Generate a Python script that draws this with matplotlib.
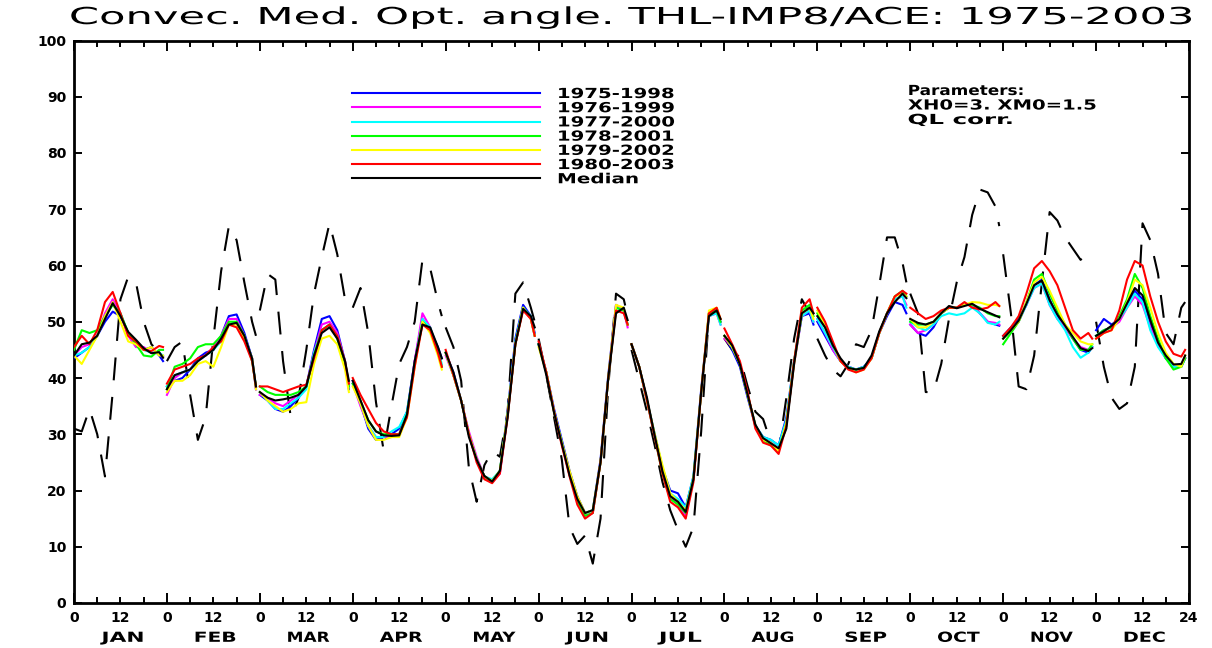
import numpy as np
import matplotlib
matplotlib.use("Agg")
import matplotlib.pyplot as plt
from matplotlib import patheffects
from matplotlib.transforms import Affine2D

plt.rcParams['font.family'] = ['DejaVu Sans']

months = ['JAN', 'FEB', 'MAR', 'APR', 'MAY', 'JUN',
          'JUL', 'AUG', 'SEP', 'OCT', 'NOV', 'DEC']
hours = [0, 2, 4, 6, 8, 10, 12, 14, 16, 18, 20, 22, 23]
periods = ['1975-1998', '1976-1999', '1977-2000', '1978-2001', '1979-2002', '1980-2003']
colors = ['#0000ff', '#ff00ff', '#00ffff', '#00ff00', '#ffff00', '#ff0000']

# optimal angle (deg) per month, sampled every 2 h UT
p75_98 = [
    [43.5, 44.5, 45.5, 47.5, 50.0, 51.8, 51.0, 48.0, 46.5, 45.0, 45.5, 44.0, 43.0],
    [38.5, 39.5, 40.0, 41.5, 43.5, 44.5, 45.0, 47.5, 51.0, 51.3, 48.0, 43.5, 38.0],
    [37.0, 36.0, 34.5, 34.0, 35.0, 36.5, 38.5, 45.0, 50.5, 51.0, 48.5, 43.0, 38.0],
    [39.5, 35.5, 31.0, 29.0, 29.5, 30.0, 31.0, 34.0, 43.0, 50.5, 48.5, 45.5, 43.5],
    [44.5, 41.0, 36.0, 30.0, 25.5, 22.5, 21.5, 23.5, 34.0, 47.0, 53.0, 51.0, 48.0],
    [46.0, 41.0, 34.5, 29.0, 23.5, 19.0, 16.0, 16.5, 25.5, 40.5, 53.0, 52.0, 49.5],
    [46.0, 42.0, 36.0, 30.0, 24.0, 20.0, 19.5, 17.0, 22.5, 38.0, 51.5, 52.0, 50.0],
    [47.5, 45.0, 42.0, 36.5, 31.5, 29.5, 29.0, 28.0, 33.0, 43.0, 51.0, 51.5, 49.5],
    [50.0, 47.5, 45.0, 43.0, 42.0, 41.5, 42.0, 43.5, 48.0, 51.0, 53.5, 53.0, 51.5],
    [49.5, 48.0, 47.5, 49.0, 51.5, 52.5, 52.5, 53.0, 53.0, 51.5, 50.0, 49.5, 49.3],
    [47.5, 49.0, 50.5, 53.0, 56.5, 57.5, 54.0, 51.0, 49.0, 47.0, 45.0, 44.5, 45.5],
    [48.5, 50.5, 49.5, 50.5, 53.0, 55.5, 54.0, 49.5, 46.0, 43.5, 42.0, 42.0, 43.5],
]
p76_99 = [
    [44.0, 45.5, 46.0, 47.5, 51.5, 54.0, 51.5, 47.5, 45.5, 45.5, 44.5, 44.5, 43.8],
    [37.0, 40.0, 41.0, 41.5, 43.0, 44.0, 45.5, 47.5, 50.5, 50.5, 47.5, 43.5, 38.0],
    [37.0, 36.5, 35.5, 35.0, 36.0, 37.0, 38.5, 44.5, 49.5, 50.0, 48.0, 43.0, 38.5],
    [39.0, 35.0, 31.5, 29.5, 29.5, 29.5, 30.0, 33.5, 43.0, 51.5, 49.0, 44.5, 42.0],
    [44.0, 40.5, 36.0, 30.5, 26.0, 22.5, 21.5, 23.0, 33.5, 46.0, 52.5, 50.5, 47.5],
    [46.0, 41.0, 34.0, 28.5, 23.0, 18.5, 15.5, 16.0, 25.0, 40.0, 53.0, 52.0, 49.0],
    [46.0, 42.0, 36.0, 29.5, 23.5, 19.0, 17.5, 15.5, 22.0, 37.5, 51.0, 51.5, 49.5],
    [47.0, 45.5, 42.5, 37.0, 31.5, 29.0, 28.5, 27.0, 32.0, 42.5, 51.0, 52.0, 50.0],
    [50.5, 48.0, 45.0, 43.0, 42.0, 41.5, 42.0, 43.5, 48.0, 51.5, 54.0, 54.5, 53.0],
    [49.5, 48.0, 48.5, 49.5, 51.5, 52.5, 52.5, 53.0, 53.0, 51.5, 50.0, 49.8, 49.5],
    [47.0, 48.5, 50.0, 53.0, 56.0, 56.8, 53.0, 50.5, 49.0, 47.0, 45.5, 45.0, 45.5],
    [47.5, 48.5, 49.0, 50.0, 52.5, 54.5, 53.0, 49.0, 46.0, 43.5, 42.0, 42.0, 43.5],
]
p77_00 = [
    [44.0, 44.5, 45.5, 47.5, 51.0, 53.0, 51.5, 48.0, 46.5, 45.0, 44.5, 44.5, 44.0],
    [38.5, 40.5, 41.0, 41.5, 43.0, 44.0, 45.0, 46.5, 49.5, 50.0, 47.5, 43.5, 38.5],
    [37.5, 36.0, 34.5, 34.5, 35.5, 36.5, 38.0, 44.5, 48.5, 49.5, 47.5, 43.0, 38.5],
    [39.0, 35.5, 31.5, 29.5, 29.5, 30.5, 31.3, 34.0, 42.5, 50.5, 49.0, 45.0, 42.5],
    [44.5, 40.5, 36.0, 30.0, 25.5, 22.5, 22.0, 23.5, 33.5, 46.5, 52.5, 51.0, 47.5],
    [46.0, 41.0, 34.0, 28.5, 23.0, 18.5, 16.0, 16.5, 25.0, 40.0, 52.5, 52.0, 49.5],
    [46.0, 42.0, 36.0, 30.0, 24.0, 19.5, 18.5, 17.0, 22.5, 37.5, 51.0, 51.5, 49.5],
    [47.5, 45.5, 42.5, 37.0, 31.5, 29.5, 29.0, 28.0, 32.5, 43.0, 51.0, 52.0, 50.0],
    [50.5, 48.0, 45.5, 43.0, 42.0, 41.5, 42.0, 43.5, 48.0, 51.5, 54.0, 54.5, 52.5],
    [50.0, 49.0, 48.5, 49.5, 51.0, 51.5, 51.2, 51.5, 52.5, 51.5, 49.8, 49.5, 50.0],
    [47.0, 48.5, 50.0, 53.0, 56.0, 56.8, 53.0, 50.5, 48.5, 45.5, 43.6, 44.5, 45.5],
    [47.5, 48.5, 49.0, 50.5, 52.5, 55.0, 53.5, 48.5, 45.5, 43.5, 42.0, 42.0, 43.5],
]
p78_01 = [
    [45.0, 48.5, 48.0, 48.5, 51.0, 53.0, 51.5, 48.0, 46.0, 44.0, 43.8, 45.0, 45.0],
    [38.0, 42.0, 42.5, 43.5, 45.5, 46.0, 46.0, 47.5, 50.0, 50.0, 47.5, 43.0, 38.5],
    [38.5, 37.5, 37.0, 37.0, 37.0, 37.5, 38.5, 44.0, 48.5, 49.5, 47.0, 42.5, 38.5],
    [39.0, 36.0, 32.5, 30.5, 30.0, 30.0, 30.0, 33.5, 42.5, 50.0, 48.5, 44.5, 42.0],
    [44.5, 40.5, 36.0, 30.0, 25.5, 22.5, 21.5, 23.5, 33.5, 46.0, 52.5, 50.5, 47.5],
    [46.0, 41.0, 34.0, 28.5, 23.0, 18.0, 15.5, 16.0, 25.0, 40.0, 52.5, 52.0, 49.5],
    [46.0, 42.0, 36.0, 29.5, 23.0, 18.5, 17.5, 16.0, 22.0, 37.5, 51.5, 52.0, 50.0],
    [47.5, 45.5, 42.5, 37.0, 31.5, 29.0, 28.0, 27.0, 32.0, 43.0, 52.0, 53.0, 51.0],
    [51.5, 49.0, 46.0, 43.0, 41.8, 41.5, 41.8, 43.5, 48.0, 51.5, 54.5, 55.5, 54.5],
    [50.0, 49.5, 49.5, 50.0, 51.5, 52.5, 52.5, 53.0, 53.0, 52.5, 51.5, 51.0, 51.0],
    [46.0, 48.0, 50.0, 53.5, 57.5, 58.5, 55.0, 52.0, 49.5, 47.0, 45.0, 45.0, 46.0],
    [47.5, 48.5, 49.0, 51.0, 54.0, 58.5, 56.0, 51.0, 47.0, 43.5, 41.5, 42.0, 43.5],
]
p79_02 = [
    [44.0, 42.5, 45.0, 47.5, 51.0, 53.5, 50.0, 46.5, 46.0, 45.0, 45.5, 44.0, 44.0],
    [37.5, 39.5, 39.5, 40.5, 42.5, 43.0, 42.0, 45.5, 49.5, 49.5, 47.0, 43.5, 38.0],
    [37.5, 36.0, 35.0, 34.0, 34.5, 35.5, 35.7, 42.5, 47.0, 47.5, 46.0, 41.5, 37.5],
    [38.5, 35.5, 31.5, 29.0, 29.0, 29.5, 29.5, 33.0, 42.0, 50.0, 48.0, 44.0, 41.5],
    [44.5, 40.5, 36.0, 30.0, 25.5, 22.5, 21.7, 23.5, 33.5, 46.0, 52.5, 50.5, 47.5],
    [45.5, 41.0, 34.0, 28.5, 23.5, 19.0, 16.0, 16.5, 25.0, 40.0, 53.0, 52.5, 49.5],
    [46.0, 42.0, 36.0, 30.0, 24.5, 19.5, 18.0, 16.5, 22.0, 37.5, 52.0, 52.5, 50.5],
    [47.5, 45.5, 42.5, 37.0, 31.5, 29.0, 28.5, 27.0, 32.0, 42.5, 51.5, 52.5, 50.5],
    [52.0, 49.5, 46.0, 43.0, 41.8, 41.0, 41.5, 43.5, 48.0, 51.5, 54.5, 55.0, 54.5],
    [50.5, 49.0, 49.0, 50.0, 51.5, 52.5, 52.5, 53.0, 53.5, 53.4, 53.0, 53.0, 52.8],
    [47.0, 48.5, 50.0, 53.5, 57.0, 58.0, 55.5, 52.5, 49.5, 48.0, 46.5, 46.0, 46.0],
    [47.0, 48.0, 48.5, 50.5, 53.5, 57.5, 56.5, 52.5, 48.0, 44.5, 42.5, 42.0, 44.0],
]
p80_03 = [
    [45.5, 47.5, 46.0, 48.5, 53.5, 55.3, 51.5, 47.5, 46.5, 45.0, 44.8, 45.7, 45.5],
    [39.0, 41.5, 42.0, 42.5, 43.5, 44.0, 45.5, 46.5, 49.5, 49.0, 46.5, 43.0, 38.5],
    [38.5, 38.5, 38.0, 37.5, 38.0, 38.5, 38.8, 43.5, 48.5, 49.5, 47.5, 43.0, 39.0],
    [40.0, 37.0, 34.5, 32.0, 30.5, 30.0, 30.0, 33.0, 42.0, 49.5, 48.5, 44.5, 42.0],
    [45.0, 40.5, 36.0, 30.0, 25.0, 22.0, 21.3, 23.0, 33.0, 46.0, 52.0, 50.5, 47.5],
    [46.5, 41.0, 34.0, 28.0, 22.5, 17.5, 15.0, 16.0, 25.0, 40.0, 52.0, 51.5, 49.5],
    [46.0, 42.0, 36.0, 29.5, 23.0, 18.0, 17.0, 15.0, 21.5, 37.5, 51.5, 52.5, 50.5],
    [48.8, 46.0, 43.0, 37.5, 31.0, 28.5, 28.0, 26.5, 31.5, 43.0, 52.5, 54.0, 51.5],
    [52.5, 50.0, 46.5, 43.0, 41.5, 41.0, 41.5, 43.5, 48.0, 51.5, 54.5, 55.5, 55.0],
    [52.5, 51.5, 50.5, 51.0, 52.0, 52.5, 52.5, 53.5, 52.5, 52.2, 52.5, 53.5, 52.8],
    [47.5, 49.0, 51.0, 55.0, 59.5, 60.8, 59.0, 56.5, 52.5, 48.5, 47.0, 48.0, 47.0],
    [47.0, 48.0, 48.5, 52.0, 57.5, 60.8, 60.0, 54.5, 50.0, 46.5, 44.3, 43.8, 45.0],
]
median = [
    [44.0, 46.0, 46.3, 47.5, 50.5, 53.3, 51.0, 48.2, 46.8, 45.3, 44.4, 44.6, 43.6],
    [38.0, 40.5, 41.0, 41.5, 43.0, 44.0, 45.0, 47.0, 49.5, 49.8, 47.5, 43.5, 38.5],
    [37.5, 36.5, 36.0, 36.2, 36.5, 37.0, 38.5, 44.0, 48.0, 49.0, 47.0, 43.0, 39.5],
    [39.5, 36.0, 32.5, 30.5, 29.8, 29.7, 29.8, 33.5, 43.0, 49.5, 49.0, 45.5, 43.5],
    [44.5, 41.0, 36.0, 29.5, 25.5, 22.6, 21.6, 23.5, 33.0, 46.0, 52.3, 51.0, 49.0],
    [46.0, 40.5, 33.8, 28.3, 22.7, 18.5, 16.0, 16.5, 25.0, 40.0, 51.5, 52.5, 50.3],
    [46.0, 42.0, 36.5, 29.7, 23.4, 19.0, 18.0, 16.2, 22.0, 37.5, 51.0, 52.0, 50.5],
    [47.5, 45.8, 42.4, 37.0, 31.7, 29.3, 28.4, 27.5, 31.0, 42.5, 51.5, 52.5, 51.5],
    [51.0, 49.0, 45.8, 43.5, 41.8, 41.5, 41.8, 44.0, 48.3, 51.5, 53.5, 55.0, 54.2],
    [50.5, 49.8, 49.5, 50.0, 51.5, 52.8, 52.4, 52.8, 53.2, 52.3, 51.7, 51.1, 50.8],
    [47.0, 48.5, 50.2, 53.2, 56.5, 57.3, 53.8, 51.3, 49.3, 47.3, 45.3, 44.8, 45.3],
    [47.5, 48.3, 49.3, 50.5, 53.3, 56.0, 54.7, 50.3, 46.3, 44.0, 42.4, 42.5, 44.0],
]
# dashed reference curve
reference = [
    [31.0, 30.5, 34.5, 30.0, 22.5, 37.5, 54.0, 58.0, 57.0, 50.0, 46.0, 44.5, 44.0],
    [43.0, 45.5, 46.5, 37.0, 29.0, 33.0, 47.0, 59.0, 67.0, 64.5, 57.0, 50.0, 47.5],
    [52.0, 58.5, 57.5, 43.0, 33.0, 36.5, 45.0, 55.0, 61.5, 67.5, 62.0, 54.0, 52.5],
    [52.5, 56.0, 48.0, 35.7, 27.0, 35.0, 42.5, 45.5, 50.0, 61.0, 59.5, 53.5, 51.0],
    [49.0, 45.5, 39.5, 24.0, 18.0, 24.5, 27.0, 26.0, 34.0, 55.0, 57.0, 52.5, 50.0],
    [47.0, 40.5, 33.0, 25.5, 13.5, 10.5, 12.0, 7.0, 15.0, 38.5, 55.0, 54.0, 51.0],
    [45.0, 39.5, 34.0, 28.0, 21.5, 16.5, 13.0, 10.0, 13.5, 30.5, 51.5, 52.0, 50.0],
    [47.0, 45.0, 43.6, 38.5, 34.0, 32.7, 28.5, 27.0, 36.5, 47.0, 54.0, 51.5, 49.0],
    [47.0, 44.0, 41.5, 40.3, 42.5, 46.0, 45.5, 48.5, 56.5, 65.0, 65.0, 60.5, 57.0],
    [55.0, 51.5, 37.5, 37.5, 42.5, 50.5, 57.0, 61.5, 69.0, 73.5, 73.0, 70.5, 67.0],
    [62.0, 51.5, 38.5, 38.0, 44.0, 57.0, 69.5, 68.0, 65.0, 63.0, 61.0, 62.5, 62.0],
    [50.0, 42.0, 36.5, 34.5, 35.5, 42.0, 67.5, 64.5, 58.5, 48.0, 46.0, 52.5, 53.5],
]

series = [p75_98, p76_99, p77_00, p78_01, p79_02, p80_03]


class Stretch(patheffects.AbstractPathEffect):
    """Widen glyphs horizontally, plotter-lettering style."""

    def __init__(self, sx, anchor='left'):
        super().__init__()
        self.sx = sx
        self.anchor = anchor

    def draw_path(self, renderer, gc, tpath, affine, rgbFace=None):
        ext = tpath.get_extents()
        x0 = ext.x0 if self.anchor == 'left' else 0.5 * (ext.x0 + ext.x1)
        wide = Affine2D().translate(-x0, 0).scale(self.sx, 1).translate(x0, 0)
        renderer.draw_path(gc, tpath, wide + affine, rgbFace)


W, H = 1212, 648
fig = plt.figure(figsize=(W / 100, H / 100), dpi=100)
ax = fig.add_axes([74 / W, 45 / H, 1115 / W, 562.5 / H])

hrs = np.array(hours)
for m in range(12):
    x = m * 24 + hrs
    ax.plot(x, reference[m], color='black', lw=1.5, ls=(0, (11, 8)), zorder=2)
    for vals, c, lab in zip(series, colors, periods):
        ax.plot(x, vals[m], color=c, lw=1.5, zorder=3, label=lab if m == 0 else None)
    ax.plot(x, median[m], color='black', lw=1.5, zorder=4, label='Median' if m == 0 else None)

ax.set_xlim(0, 288)
ax.set_ylim(0, 100)

major = np.arange(0, 289, 24)
ax.set_xticks(major, ['0'] * 12 + ['24'])
minor = [m * 24 + h for m in range(12) for h in (6, 12, 18)]
ax.set_xticks(minor, ['12' if h == 12 else '' for m in range(12) for h in (6, 12, 18)], minor=True)
ax.set_yticks(np.arange(0, 101, 10))

for t in ax.get_xticklabels(which='both') + ax.get_yticklabels():
    t.set_fontweight('bold')
ax.tick_params(axis='x', which='both', direction='in', top=True, labelsize=10, pad=6, width=1.4)
ax.tick_params(axis='x', which='major', length=7)
ax.tick_params(axis='x', which='minor', length=4)
ax.tick_params(axis='y', direction='in', right=True, labelsize=10, pad=5.5, length=5.5, width=1.4)
for sp in ax.spines.values():
    sp.set_linewidth(2.0)

month_txt = [ax.text(m * 24 + 12.5, -0.069, name, transform=ax.get_xaxis_transform(),
                     ha='center', va='baseline', fontsize=10, fontweight='bold')
             for m, name in enumerate(months)]

title = fig.text(70 / W, 1 - 24 / H, 'Convec. Med. Opt. angle. THL-IMP8/ACE: 1975-2003',
                 ha='left', va='baseline', fontsize=16.8)

params = ['Parameters:', 'XH0=3. XM0=1.5', 'QL corr.']
param_txt = [fig.text(908 / W, 1 - (95 + 14.5 * i) / H, s, ha='left', va='baseline',
                      fontsize=10, fontweight='bold')
             for i, s in enumerate(params)]

leg = ax.legend(loc='upper left', bbox_to_anchor=(352 / W, 1 - 87 / H),
                bbox_transform=fig.transFigure, frameon=False, borderpad=0,
                borderaxespad=0, handlelength=13.5, handletextpad=1.3,
                labelspacing=0.015, prop={'weight': 'bold', 'size': 10})

# widen the lettering to the plotter's spacing
fig.canvas.draw()
rend = fig.canvas.get_renderer()


def widen(txt, width_px, anchor='left'):
    w = txt.get_window_extent(renderer=rend).width
    txt.set_path_effects([Stretch(width_px / w, anchor)])


widen(title, 1125)
for t in leg.get_texts():
    widen(t, 82 if t.get_text() == 'Median' else 118)
for t, w in zip(param_txt, [117, 189, 107]):
    widen(t, w)
for t in month_txt:
    widen(t, 43, anchor='center')

fig.savefig('out.png', dpi=100)
